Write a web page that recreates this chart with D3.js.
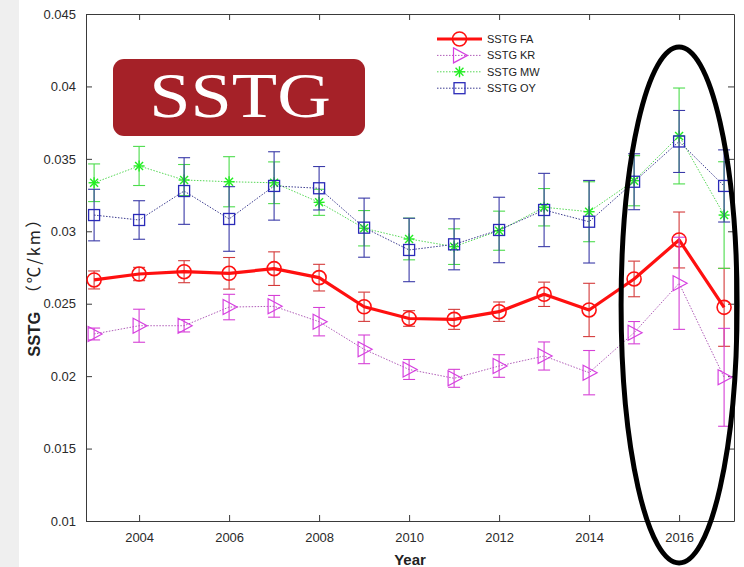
<!DOCTYPE html>
<html>
<head>
<meta charset="utf-8">
<script src="https://cdn.jsdelivr.net/npm/d3@7"></script>
<style>
  body { margin: 0; background: #fff; }
  svg { display: block; }
</style>
</head>
<body>
<svg id="chart" width="744" height="567"></svg>
<script>
// Years of observation
const years = [2003, 2004, 2005, 2006, 2007, 2008, 2009, 2010, 2011, 2012, 2013, 2014, 2015, 2016, 2017];

// SSTG FA: mean and half-width of the error bar
const faMean = [0.02664, 0.02705, 0.02721, 0.02710, 0.02742, 0.02680, 0.02479, 0.02398, 0.02392, 0.02445, 0.02565, 0.02457, 0.02671, 0.02940, 0.02475];
const faErr  = [0.00062, 0.00046, 0.00076, 0.00109, 0.00116, 0.00092, 0.00101, 0.00054, 0.00069, 0.00067, 0.00084, 0.00184, 0.00123, 0.00193, 0.00269];

// SSTG KR
const krMean = [0.02291, 0.02348, 0.02348, 0.02477, 0.02482, 0.02376, 0.02185, 0.02046, 0.01985, 0.02070, 0.02139, 0.02024, 0.02300, 0.02641, 0.01992];
const krErr  = [0.00041, 0.00114, 0.00043, 0.00088, 0.00075, 0.00098, 0.00099, 0.00069, 0.00062, 0.00078, 0.00097, 0.00153, 0.00077, 0.00318, 0.00338];

// SSTG MW
const mwMean = [0.03335, 0.03451, 0.03354, 0.03342, 0.03335, 0.03200, 0.03021, 0.02947, 0.02894, 0.03004, 0.03166, 0.03135, 0.03349, 0.03658, 0.03112];
const mwErr  = [0.00130, 0.00135, 0.00107, 0.00173, 0.00144, 0.00090, 0.00122, 0.00144, 0.00123, 0.00135, 0.00129, 0.00207, 0.00173, 0.00331, 0.00368];

// SSTG OY
const oyMean = [0.03112, 0.03078, 0.03278, 0.03085, 0.03313, 0.03297, 0.03025, 0.02871, 0.02910, 0.03009, 0.03147, 0.03066, 0.03342, 0.03620, 0.03313];
const oyErr  = [0.00178, 0.00133, 0.00230, 0.00223, 0.00236, 0.00150, 0.00204, 0.00219, 0.00176, 0.00226, 0.00253, 0.00285, 0.00193, 0.00214, 0.00249];

const seriesNames = ["SSTG FA", "SSTG KR", "SSTG MW", "SSTG OY"];
const xTicks = [2004, 2006, 2008, 2010, 2012, 2014, 2016];
const yTicks = [0.01, 0.015, 0.02, 0.025, 0.03, 0.035, 0.04, 0.045];
const yLabelMain = "SSTG";
const yLabelUnit = "（℃/km）";
const xLabel = "Year";
const badgeText = "SSTG";
const highlightYear = 2016;

const svg = d3.select("#chart");
const W = 744, H = 567;
const plot = { left: 86, right: 734, top: 14, bottom: 521 };

const x = d3.scaleLinear().domain([2002.82, 2017.22]).range([plot.left, plot.right]);
const y = d3.scaleLinear().domain([0.01, 0.045]).range([plot.bottom, plot.top]);

// page background with a soft grey band on the left edge
svg.append("rect").attr("width", W).attr("height", H).attr("fill", "#ffffff");
svg.append("rect").attr("x", 0).attr("y", 0).attr("width", 19).attr("height", H).attr("fill", "#efefef");

const font = "'Liberation Sans', Arial, Helvetica, sans-serif";
const axisColor = "#3a3a3a";

// axes: box with inward ticks mirrored on all sides
const gAxes = svg.append("g");
const tickLen = 6;
const bottomAxis = d3.axisBottom(x).tickValues(xTicks).tickFormat(d3.format("d")).tickSizeInner(-tickLen).tickSizeOuter(0).tickPadding(12);
const leftAxis = d3.axisLeft(y).tickValues(yTicks).tickFormat(d => d3.format("")(+d.toFixed(3))).tickSizeInner(-tickLen).tickSizeOuter(0).tickPadding(10);
const topAxis = d3.axisTop(x).tickValues(xTicks).tickFormat("").tickSizeInner(-tickLen).tickSizeOuter(0);
const rightAxis = d3.axisRight(y).tickValues(yTicks).tickFormat("").tickSizeInner(-tickLen).tickSizeOuter(0);

function styleAxis(g) {
  g.selectAll("path").attr("stroke", axisColor).attr("stroke-width", 1);
  g.selectAll("line").attr("stroke", axisColor).attr("stroke-width", 1);
  g.selectAll("text").attr("fill", "#2a2a2a").attr("font-family", font).attr("font-size", 13);
}
gAxes.append("g").attr("transform", `translate(0,${plot.bottom})`).call(bottomAxis).call(styleAxis);
gAxes.append("g").attr("transform", `translate(${plot.left},0)`).call(leftAxis).call(styleAxis);
gAxes.append("g").attr("transform", `translate(0,${plot.top})`).call(topAxis).call(styleAxis);
gAxes.append("g").attr("transform", `translate(${plot.right},0)`).call(rightAxis).call(styleAxis);

// axis titles
svg.append("text")
  .attr("transform", `translate(${(plot.left + plot.right) / 2},${H - 2}) `)
  .attr("text-anchor", "middle")
  .attr("font-family", font).attr("font-weight", "bold").attr("font-size", 15)
  .attr("fill", "#222").text(xLabel);

const yTitle = svg.append("text")
  .attr("transform", `translate(40,283) rotate(-90)`)
  .attr("text-anchor", "middle")
  .attr("font-family", font).attr("font-size", 16.5).attr("fill", "#222");
yTitle.append("tspan").attr("font-weight", "bold").text(yLabelMain);
yTitle.append("tspan").attr("font-family", "'Noto Sans CJK SC', 'Noto Sans CJK JP', sans-serif")
  .attr("font-size", 16.5).attr("dx", 10).attr("letter-spacing", 2).text(yLabelUnit);

// marker shapes
function drawMarker(g, type, cx, cy, color) {
  if (type === "circle") {
    g.append("circle").attr("cx", cx).attr("cy", cy).attr("r", 7)
      .attr("fill", "none").attr("stroke", color).attr("stroke-width", 1.6);
  } else if (type === "triangle") {
    const p = [[cx - 6, cy - 7.5], [cx + 8, cy], [cx - 6, cy + 7.5]];
    g.append("path").attr("d", "M" + p.map(q => q.join(",")).join("L") + "Z")
      .attr("fill", "none").attr("stroke", color).attr("stroke-width", 1.2);
  } else if (type === "star") {
    const r = 5.5, d = r * 0.72;
    const segs = [[-r, 0, r, 0], [0, -r, 0, r], [-d, -d, d, d], [-d, d, d, -d]];
    segs.forEach(s => g.append("line")
      .attr("x1", cx + s[0]).attr("y1", cy + s[1]).attr("x2", cx + s[2]).attr("y2", cy + s[3])
      .attr("stroke", color).attr("stroke-width", 1.4));
  } else if (type === "square") {
    g.append("rect").attr("x", cx - 5.5).attr("y", cy - 5.5).attr("width", 11).attr("height", 11)
      .attr("fill", "none").attr("stroke", color).attr("stroke-width", 1.3);
  }
}

const series = [
  { name: seriesNames[0], mean: faMean, err: faErr, line: "#ff1010", bar: "#d43a3a", marker: "circle", width: 3.2, dash: null },
  { name: seriesNames[1], mean: krMean, err: krErr, line: "#b05cb8", bar: "#d640d6", markerColor: "#d640e0", marker: "triangle", width: 1, dash: "1.5,1.5" },
  { name: seriesNames[2], mean: mwMean, err: mwErr, line: "#55d855", bar: "#4cdc4c", markerColor: "#22ee22", marker: "star", width: 1, dash: "1.5,1.5" },
  { name: seriesNames[3], mean: oyMean, err: oyErr, line: "#3c3c90", bar: "#3a3aa8", markerColor: "#2a2ab8", marker: "square", width: 1, dash: "1.5,1.5" }
];

const gData = svg.append("g");
const lineGen = d3.line().x(d => x(d.year)).y(d => y(d.v));
const capHalf = 6;

series.forEach(s => {
  const g = gData.append("g");
  const pts = years.map((yr, i) => ({ year: yr, v: s.mean[i], e: s.err[i] }));
  // error bars
  pts.forEach(p => {
    const cx = x(p.year), y1 = y(p.v + p.e), y0 = y(p.v - p.e);
    g.append("line").attr("x1", cx).attr("x2", cx).attr("y1", y1).attr("y2", y0)
      .attr("stroke", s.bar).attr("stroke-width", 1.1);
    [y1, y0].forEach(yy => g.append("line")
      .attr("x1", cx - capHalf).attr("x2", cx + capHalf).attr("y1", yy).attr("y2", yy)
      .attr("stroke", s.bar).attr("stroke-width", 1.1));
  });
  // connecting line
  g.append("path").datum(pts).attr("d", lineGen)
    .attr("fill", "none").attr("stroke", s.line).attr("stroke-width", s.width)
    .attr("stroke-linejoin", "round")
    .attr("stroke-dasharray", s.dash);
  // markers
  pts.forEach(p => drawMarker(g, s.marker, x(p.year), y(p.v), s.markerColor || s.line));
});

// legend
const legend = svg.append("g").attr("transform", "translate(437,39)");
series.forEach((s, i) => {
  const row = legend.append("g").attr("transform", `translate(0,${i * 16.4})`);
  row.append("line").attr("x1", 0).attr("x2", 45).attr("y1", 0).attr("y2", 0)
    .attr("stroke", s.line).attr("stroke-width", s.width).attr("stroke-dasharray", s.dash);
  drawMarker(row, s.marker, 22.5, 0, s.markerColor || s.line);
  row.append("text").attr("x", 50).attr("y", 4)
    .attr("font-family", font).attr("font-size", 11).attr("fill", "#222").text(s.name);
});

// title badge
const badge = svg.append("g");
badge.append("rect").attr("x", 113).attr("y", 59).attr("width", 252).attr("height", 77)
  .attr("rx", 11).attr("fill", "#a52128");
badge.append("text")
  .attr("transform", "translate(240,117) scale(1.16,1)")
  .attr("text-anchor", "middle")
  .attr("font-family", "'Liberation Serif', 'Times New Roman', serif")
  .attr("font-size", 64).attr("fill", "#ffffff")
  .text(badgeText);

// highlight ring around the final two years
svg.append("ellipse")
  .attr("cx", x(highlightYear)).attr("cy", 305)
  .attr("rx", 58).attr("ry", 258)
  .attr("fill", "none").attr("stroke", "#000").attr("stroke-width", 5);
</script>
</body>
</html>
